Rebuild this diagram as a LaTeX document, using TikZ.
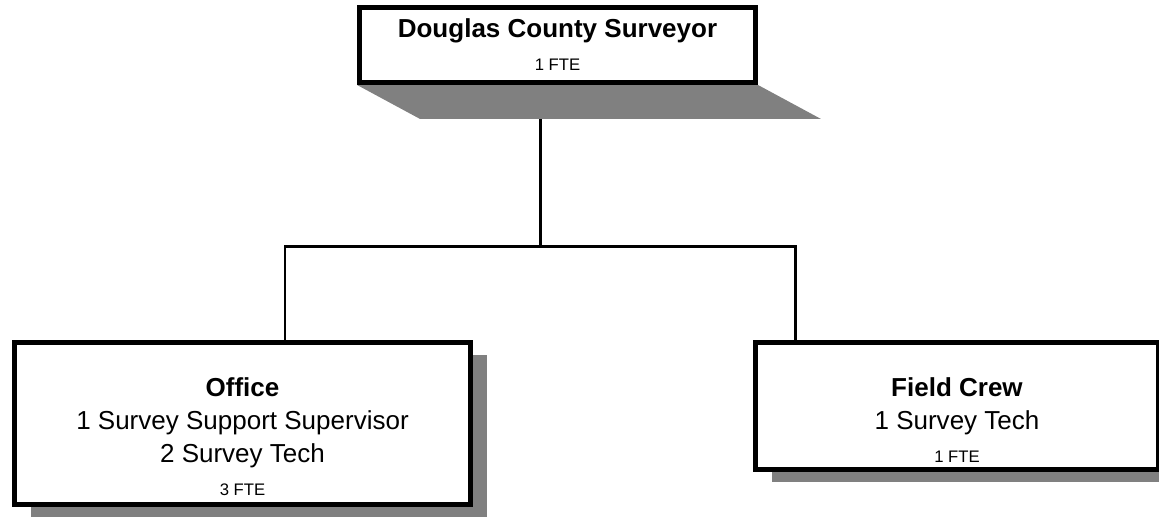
\documentclass[tikz,border=0pt]{standalone}
\usepackage{fontspec}
\setmainfont{Liberation Sans}
\usetikzlibrary{shadows, backgrounds}
\newcommand{\ftesize}{\fontsize{9.5}{11}\selectfont}
\tikzstyle{unit} = [rectangle, draw=black, line width=2.8pt, fill=white, align=center, inner sep=0pt, font=\fontsize{14.8}{18.7}\selectfont]
\tikzstyle{chief} = [unit, minimum width=7.92cm, minimum height=1.5cm]
\tikzstyle{branch} = [unit, drop shadow={shadow xshift=0.32cm, shadow yshift=-0.24cm, fill=black!50, opacity=1}]
\tikzstyle{link} = [line width=1.7pt]
\tikzstyle{slab} = [fill=black!50]

\begin{document}
\begin{tikzpicture}
  \useasboundingbox (0,0) rectangle (23.18,-10.38);
  \node (surveyor) [chief] at (11.15,-0.9) {\textbf{Douglas County Surveyor}\\ \ftesize 1 FTE};
  \node (office) [branch, minimum width=9.12cm, minimum height=3.24cm] at (4.85,-8.47) {\rule{0pt}{25.4pt}\textbf{Office}\\
    1 Survey Support Supervisor\\
    2 Survey Tech\\
    \ftesize 3 FTE};
  \node (field) [branch, minimum width=8.06cm, minimum height=2.54cm] at (19.14,-8.12) {\rule{0pt}{26.6pt}\textbf{Field Crew}\\
    1 Survey Tech\\
    \ftesize 1 FTE};
  \coordinate (split) at (10.8,-4.92);
  \coordinate (officetap) at (5.7,-4.92);
  \coordinate (fieldtap) at (15.9,-4.92);
  \begin{scope}[on background layer]
    \draw[link] (split |- surveyor.south) -- (split);
    \draw[link] (officetap |- office.north) -- (officetap) -- (fieldtap) -- (fieldtap |- field.north);
    \fill[slab] (surveyor.south west) -- (surveyor.south east) -- ++(1.26,-0.68)
      -- ([xshift=1.26cm,yshift=-0.68cm]surveyor.south west) -- cycle;
  \end{scope}
\end{tikzpicture}
\end{document}
